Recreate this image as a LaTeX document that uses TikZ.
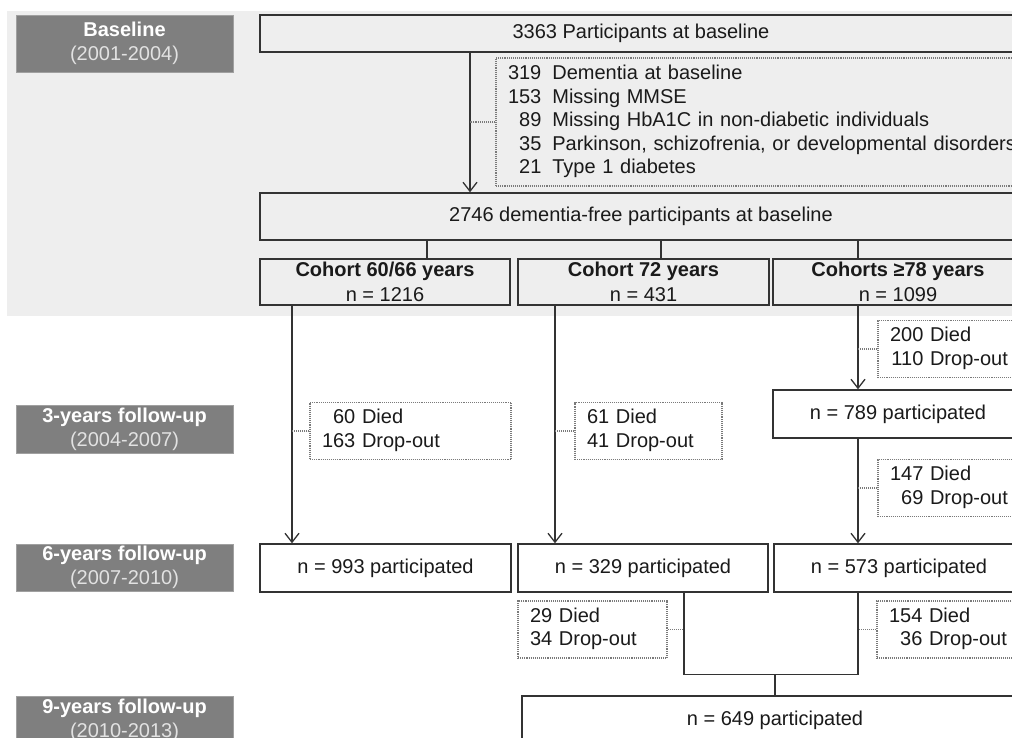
\documentclass[tikz,border=0pt]{standalone}
\usepackage{fontspec}
\setmainfont{Liberation Sans}
\usetikzlibrary{arrows.meta}
\newcommand{\lost}[2]{\begin{tabular}{@{}r@{ }l@{}}#1&Died\\#2&Drop-out\end{tabular}}

\begin{document}
\begin{tikzpicture}[x=1pt,y=-1pt,font=\fontsize{20}{23.5}\selectfont,
  phase/.style={fill=phasegrey,draw=phaseedge,text=white,align=center,minimum width=217pt,inner sep=0pt},
  flowbox/.style={draw=lineblack,line width=1.4pt,fill=white,align=center,inner sep=0pt,text=textblack},
  lostbox/.style={draw=dotgrey,line width=1.1pt,densely dotted,fill=white,align=left,inner sep=0pt,inner xsep=12pt,minimum height=57pt,text=textblack},
  flow/.style={draw=lineblack,line width=1.3pt},
  arr/.style={flow,-{Straight Barb[length=9pt,width=14pt]}},
  side/.style={draw=dotgrey,line width=1.1pt,densely dotted}]
\definecolor{bggrey}{HTML}{EEEEEE}
\definecolor{phasegrey}{HTML}{7F7F7F}
\definecolor{phaseedge}{HTML}{A0A0A0}
\definecolor{yeargrey}{HTML}{E2E2E2}
\definecolor{lineblack}{HTML}{333333}
\definecolor{textblack}{HTML}{1A1A1A}
\definecolor{dotgrey}{HTML}{7A7A7A}
\useasboundingbox (0,0) rectangle (1012,737);
\clip (0,0) rectangle (1012,737);
\fill[bggrey] (7,11) rectangle (1012,316);
% phase labels
  \foreach \nm/\ttl/\yrs/\ypos/\hgt in {base/Baseline/2001-2004/43.5/57,fu3/3-years follow-up/2004-2007/429.5/48,fu6/6-years follow-up/2007-2010/567.5/47,fu9/9-years follow-up/2010-2013/720.5/49}
  {  \node [phase,minimum height=\hgt pt] (\nm) at (124.5,\ypos) {\textbf{\ttl}\\\textcolor{yeargrey}{(\yrs)}};}
% baseline
\node [flowbox,fill=bggrey,minimum width=762pt,minimum height=37pt] (start) at (641,33.5) {3363 Participants at baseline};
\node [lostbox,fill=none,minimum height=128pt,text width=510pt] (excl) at (763,122)
  {\begin{tabular}{@{}r@{\hspace{11pt}}l@{}}319&Dementia at baseline\\153&Missing MMSE\\89&Missing HbA1C in non-diabetic individuals\\35&Parkinson, schizofrenia, or developmental disorders\\21&Type 1 diabetes\end{tabular}};
\node [flowbox,fill=bggrey,minimum width=762pt,minimum height=47pt] (free) at (641,216.5) {2746 dementia-free participants at baseline};
\node [flowbox,fill=bggrey,minimum width=250pt,minimum height=46pt] (c1) at (385,282) {\textbf{Cohort 60/66 years}\\[1.5pt]n = 1216};
\node [flowbox,fill=bggrey,minimum width=251pt,minimum height=46pt] (c2) at (643.5,282) {\textbf{Cohort 72 years}\\[1.5pt]n = 431};
\node [flowbox,fill=bggrey,minimum width=250pt,minimum height=46pt] (c3) at (898,282) {\textbf{Cohorts ≥78 years}\\[1.5pt]n = 1099};
% follow-up waves
\node [flowbox,minimum width=250pt,minimum height=48pt] (p3) at (898,414) {n = 789 participated};
\node [flowbox,minimum width=251pt,minimum height=48pt] (p61) at (385.5,568) {n = 993 participated};
\node [flowbox,minimum width=250pt,minimum height=48pt] (p62) at (643,568) {n = 329 participated};
\node [flowbox,minimum width=250pt,minimum height=48pt] (p63) at (899,568) {n = 573 participated};
\node [flowbox,minimum width=506pt,minimum height=48pt] (p9) at (775,720) {n = 649 participated};
  \foreach \nm/\xpos/\ypos/\tw/\died/\drop in {d1/410.5/431/177/60/163,d2/648.5/431/123/61/41,d3/953/349/126/200/110,d4/953/488/126/147/69,d5/592.5/629.5/125/29/34,d6/952/629.5/126/154/36}
  {  \node [lostbox,text width=\tw pt] (\nm) at (\xpos,\ypos) {\lost{\died}{\drop}};}
% connectors
\draw[arr] ([xshift=-171pt]start.south) coordinate (t0) -- (t0 |- free.north);
\draw[side] (excl.west) -- (excl.west -| t0);
\draw[flow] ([xshift=42pt]c1.north) coordinate (k1) -- (k1 |- free.south);
\draw[flow] ([xshift=17.5pt]c2.north) coordinate (k2) -- (k2 |- free.south);
\draw[flow] ([xshift=-40pt]c3.north) coordinate (k3) -- (k3 |- free.south);
\draw[arr] ([xshift=-93pt]c1.south) coordinate (a1) -- (a1 |- p61.north);
\draw[side] (d1.west) -- (d1.west -| a1);
\draw[arr] ([xshift=-88.5pt]c2.south) coordinate (a2) -- (a2 |- p62.north);
\draw[side] (d2.west) -- (d2.west -| a2);
\draw[arr] ([xshift=-40pt]c3.south) coordinate (a3) -- (a3 |- p3.north);
\draw[side] (d3.west) -- (d3.west -| a3);
\draw[arr] (a3 |- p3.south) -- (a3 |- p63.north);
\draw[side] (d4.west) -- (d4.west -| a3);
\draw[flow] ([xshift=41pt]p62.south) coordinate (a4) -- ++(0,82) coordinate (m) -| (a3 |- p63.south);
\draw[flow] (p9.north) -- (p9.north |- m);
\draw[side] (d5.east) -- (d5.east -| a4);
\draw[side] (d6.west) -- (d6.west -| a3);
\end{tikzpicture}
\end{document}
